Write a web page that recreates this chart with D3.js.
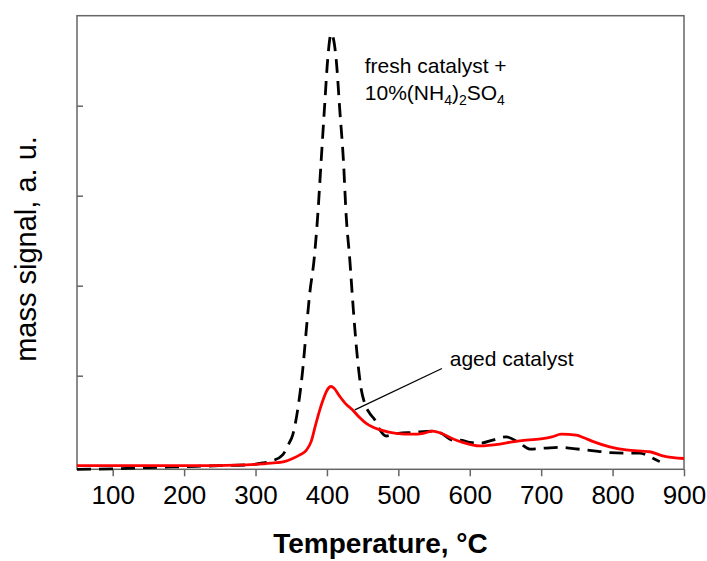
<!DOCTYPE html>
<html>
<head>
<meta charset="utf-8">
<script src="https://cdn.jsdelivr.net/npm/d3@7"></script>
<style>
  body { margin: 0; background: #fff; }
  text { font-family: "Liberation Sans", Arial, sans-serif; }
</style>
</head>
<body>
<div id="container"></div>
<script>
/* DATA */
// fresh catalyst + 10%(NH4)2SO4, dashed black
const freshT = [50, 100, 150, 200, 250, 290, 310, 324, 338, 347, 352, 359, 366, 371, 376, 382, 387, 392, 397, 401, 406,
  413, 418, 423, 427, 432, 437, 443, 448, 453, 460, 467, 474, 483, 490, 500, 520, 548, 560, 576, 586, 600, 614, 632, 651,
  670, 684, 705, 726, 745, 763, 780, 796, 820, 838, 852, 866];
const freshV = [-0.04, -0.035, -0.02, -0.01, 0, 0.01, 0.03, 0.055, 0.12, 0.25, 0.34, 0.62, 1.06, 1.5, 1.92, 2.29, 2.77, 3.4, 4.03, 4.51, 4.8,
  4.51, 3.95, 3.4, 2.77, 2.29, 1.73, 1.17, 0.85, 0.69, 0.58, 0.51, 0.4, 0.33, 0.34, 0.36, 0.37, 0.385, 0.36, 0.285, 0.285, 0.26, 0.25, 0.285, 0.32,
  0.25, 0.185, 0.195, 0.205, 0.19, 0.175, 0.16, 0.145, 0.14, 0.14, 0.1, 0.045];

// aged catalyst, solid red
const agedT = [50, 100, 200, 287, 310, 329, 340, 352, 362, 371, 378, 384, 390, 395, 399, 403, 406, 410, 418, 426, 436, 445,
  455, 464, 474, 485, 497, 520, 535, 548, 560, 576, 590, 614, 642, 660, 679, 702, 715, 728, 749, 760, 772, 796, 819, 852, 870, 885, 900];
const agedV = [0, 0, 0, 0.01, 0.02, 0.033, 0.045, 0.08, 0.12, 0.17, 0.27, 0.45, 0.62, 0.74, 0.82, 0.87, 0.88, 0.86, 0.77, 0.69, 0.62, 0.54,
  0.47, 0.43, 0.4, 0.375, 0.36, 0.35, 0.36, 0.385, 0.36, 0.3, 0.26, 0.22, 0.24, 0.265, 0.285, 0.3, 0.32, 0.35, 0.34, 0.31, 0.27, 0.21, 0.175, 0.155, 0.11, 0.09, 0.08];

const xTicks = [100, 200, 300, 400, 500, 600, 700, 800, 900];
const yTicks = [1, 2, 3, 4];

const width = 707, height = 561;
const margin = {top: 15.7, right: 23, bottom: 91.7, left: 77};

const svg = d3.select("#container")
  .append("svg")
  .attr("width", width)
  .attr("height", height);

const xScale = d3.scaleLinear()
  .domain([50, 900])
  .range([margin.left, width - margin.right]);

const yScale = d3.scaleLinear()
  .domain([-0.04, 5])
  .range([height - margin.bottom, margin.top]);

const frameColor = "#666";

// frame box
svg.append("rect")
  .attr("x", xScale(50))
  .attr("y", yScale(5))
  .attr("width", xScale(900) - xScale(50))
  .attr("height", yScale(-0.04) - yScale(5))
  .attr("fill", "none")
  .attr("stroke", frameColor)
  .attr("stroke-width", 1.5);

// x axis, ticks outside
const xAxis = svg.append("g")
  .attr("transform", "translate(0," + yScale(-0.04) + ")")
  .call(d3.axisBottom(xScale).tickValues(xTicks).tickSize(7).tickPadding(9));
xAxis.select(".domain").remove();
xAxis.selectAll("line").attr("stroke", frameColor).attr("stroke-width", 1.5);
xAxis.selectAll("text")
  .attr("font-size", 26)
  .attr("fill", "#000")
  .attr("font-family", "Liberation Sans, Arial, sans-serif");

// y axis, ticks inside, no labels
const yAxis = svg.append("g")
  .attr("transform", "translate(" + xScale(50) + ",0)")
  .call(d3.axisRight(yScale).tickValues(yTicks).tickSize(6).tickFormat(""));
yAxis.select(".domain").remove();
yAxis.selectAll("line").attr("stroke", frameColor).attr("stroke-width", 1.5);

// curves
const line = d3.line()
  .x(d => xScale(d[0]))
  .y(d => yScale(d[1]))
  .curve(d3.curveMonotoneX);

svg.append("path")
  .datum(d3.zip(freshT, freshV))
  .attr("d", line)
  .attr("fill", "none")
  .attr("stroke", "#000")
  .attr("stroke-width", 2.8)
  .attr("stroke-dasharray", "14,8");

svg.append("path")
  .datum(d3.zip(agedT, agedV))
  .attr("d", line)
  .attr("fill", "none")
  .attr("stroke", "#ff0000")
  .attr("stroke-width", 2.8);

// annotations
const t1 = svg.append("text")
  .attr("x", xScale(453))
  .attr("y", yScale(4.36))
  .attr("font-size", 21)
  .text("fresh catalyst +");

const t2 = svg.append("text")
  .attr("x", xScale(453))
  .attr("y", yScale(4.06))
  .attr("font-size", 21);
t2.append("tspan").text("10%(NH");
t2.append("tspan").attr("font-size", 14).attr("dy", 5).text("4");
t2.append("tspan").attr("dy", -5).text(")");
t2.append("tspan").attr("font-size", 14).attr("dy", 5).text("2");
t2.append("tspan").attr("dy", -5).text("SO");
t2.append("tspan").attr("font-size", 14).attr("dy", 5).text("4");

svg.append("text")
  .attr("x", xScale(572))
  .attr("y", yScale(1.11))
  .attr("font-size", 21)
  .text("aged catalyst");

svg.append("line")
  .attr("x1", xScale(561))
  .attr("y1", yScale(1.08))
  .attr("x2", xScale(439))
  .attr("y2", yScale(0.62))
  .attr("stroke", "#000")
  .attr("stroke-width", 1.2);

// axis titles
svg.append("text")
  .attr("x", (xScale(50) + xScale(900)) / 2)
  .attr("y", 553)
  .attr("text-anchor", "middle")
  .attr("font-size", 28)
  .attr("font-weight", "bold")
  .text("Temperature, °C");

svg.append("text")
  .attr("transform", "translate(36," + 249 + ") rotate(-90)")
  .attr("text-anchor", "middle")
  .attr("font-size", 29)
  .text("mass signal, a. u.");
</script>
</body>
</html>
